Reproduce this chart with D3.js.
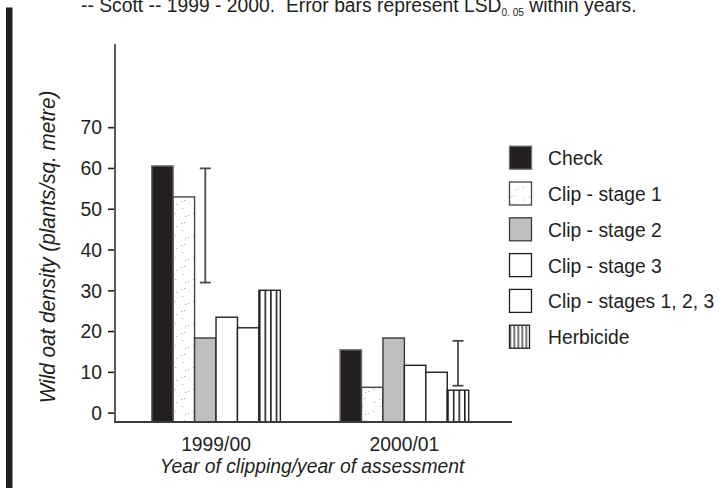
<!DOCTYPE html>
<html>
<head>
<meta charset="utf-8">
<script src="https://cdn.jsdelivr.net/npm/d3@7"></script>
<style>
  html, body { margin: 0; padding: 0; background: #fff; }
  svg { display: block; font-family: "Liberation Sans", Arial, sans-serif; }
</style>
</head>
<body>
<svg id="chart" width="719" height="488"></svg>
<script>
// Wild oat density by treatment, two assessment years
const years = ["1999/00", "2000/01"];
const treatments = ["Check", "Clip - stage 1", "Clip - stage 2", "Clip - stage 3", "Clip - stages 1, 2, 3", "Herbicide"];
const check = [60.5, 15.4];
const clipStage1 = [52.9, 6.2];
const clipStage2 = [18.3, 18.3];
const clipStage3 = [23.4, 11.6];
const clipStages123 = [20.8, 9.9];
const herbicide = [30.0, 5.5];
const yTicks = [0, 10, 20, 30, 40, 50, 60, 70];
// LSD(0.05) error bars within each year: [low, high] and the bar they sit over
const lsdLow = [31.9, 6.6];
const lsdHigh = [59.9, 17.6];
const lsdOver = ["Clip - stage 2", "Herbicide"];

const seriesValues = [check, clipStage1, clipStage2, clipStage3, clipStages123, herbicide];
const rows = [];
years.forEach((yr, gi) => treatments.forEach((t, si) => rows.push({ year: yr, treatment: t, value: seriesValues[si][gi] })));

const FONT = "Liberation Sans, Arial, sans-serif";
const NARROW = 0.92;   // slightly condensed lettering

const svg = d3.select("#chart");
const defs = svg.append("defs");

// speckled fill for clip stage 1
const speck = defs.append("pattern").attr("id", "speck").attr("patternUnits", "userSpaceOnUse")
  .attr("width", 18).attr("height", 22);
speck.append("rect").attr("width", 18).attr("height", 22).attr("fill", "#fff");
[[1, 3], [4, 2], [2, 10], [14, 6], [13, 15], [5, 18], [8, 17]].forEach(([x, y]) =>
  speck.append("rect").attr("x", x).attr("y", y).attr("width", 1.2).attr("height", 1).attr("fill", "#b0b0b0"));

// vertical-line fill for herbicide, laid out relative to each box
function vlinePattern(id, frac, w) {
  const p = defs.append("pattern").attr("id", id).attr("patternUnits", "objectBoundingBox")
    .attr("x", 0).attr("y", 0).attr("width", frac).attr("height", 1);
  p.append("rect").attr("width", 40).attr("height", 600).attr("fill", "#fff");
  p.append("line").attr("x1", 0.8).attr("x2", 0.8).attr("y1", 0).attr("y2", 600)
    .attr("stroke", "#231f20").attr("stroke-width", w);
}
vlinePattern("vlines", 0.261, 1.6);
vlinePattern("vlinesLegend", 0.2, 1.2);

const fills = {
  "Check": "#231f20",
  "Clip - stage 1": "url(#speck)",
  "Clip - stage 2": "#bcbec0",
  "Clip - stage 3": "#fff",
  "Clip - stages 1, 2, 3": "#fff",
  "Herbicide": "url(#vlines)"
};
const strokes = {
  "Check": "#6d6e71",
  "Clip - stage 1": "#444",
  "Clip - stage 2": "#3a3a3a",
  "Clip - stage 3": "#231f20",
  "Clip - stages 1, 2, 3": "#231f20",
  "Herbicide": "#231f20"
};

// scales
const y = d3.scaleLinear().domain([-2.3, 90.4]).range([422, 44]);
const x0 = d3.scaleBand().domain(years).range([151.7, 468.7]).paddingInner(0.317).paddingOuter(0);
const x1 = d3.scaleBand().domain(treatments).range([0, x0.bandwidth()]).padding(0);

// left margin rule
svg.append("rect").attr("x", 6).attr("y", 7.5).attr("width", 6.5).attr("height", 481).attr("fill", "#231f20");

// title line (runs off the top edge)
const title = svg.append("text").attr("transform", `translate(81,11.5) scale(${NARROW},1)`)
  .attr("font-size", 21).attr("fill", "#231f20");
title.append("tspan").text("-- Scott -- 1999 - 2000.  Error bars represent LSD");
title.append("tspan").attr("font-size", 11).attr("dy", 4).text("0. 05");
title.append("tspan").attr("dy", -4).text(" within years.");
title.attr("xml:space", "preserve").style("white-space", "pre");

// bars
svg.append("g").selectAll("rect").data(rows).join("rect")
  .attr("x", d => x0(d.year) + x1(d.treatment))
  .attr("y", d => y(d.value))
  .attr("width", x1.bandwidth())
  .attr("height", d => y(y.domain()[0]) - y(d.value))
  .attr("fill", d => fills[d.treatment])
  .attr("stroke", d => strokes[d.treatment])
  .attr("stroke-width", 1.4);

// error bars
const eb = svg.append("g").attr("stroke", "#4a4a4a").attr("stroke-width", 1.8);
years.forEach((yr, i) => {
  const cx = x0(yr) + x1(lsdOver[i]) + x1.bandwidth() / 2;
  eb.append("line").attr("x1", cx).attr("x2", cx).attr("y1", y(lsdLow[i])).attr("y2", y(lsdHigh[i]));
  [lsdLow[i], lsdHigh[i]].forEach(v =>
    eb.append("line").attr("x1", cx - 5.5).attr("x2", cx + 5.5).attr("y1", y(v)).attr("y2", y(v)));
});

// y axis
const yAxis = d3.axisLeft(y).tickValues(yTicks).tickSize(7).tickPadding(6).tickFormat(d3.format("d"));
const gy = svg.append("g").attr("transform", "translate(115,0)").call(yAxis);
gy.select(".domain").remove();
gy.selectAll(".tick line").attr("stroke", "#231f20").attr("stroke-width", 1.6);
gy.selectAll(".tick text").attr("font-size", 21).attr("fill", "#231f20").attr("font-family", FONT)
  .attr("x", null).attr("transform", `translate(-13,0) scale(${NARROW},1)`);
svg.append("line").attr("x1", 115).attr("x2", 115).attr("y1", 44).attr("y2", 422.8)
  .attr("stroke", "#5a5a5a").attr("stroke-width", 2);

// x axis
const xAxis = d3.axisBottom(x0).tickSize(0).tickPadding(14);
const gx = svg.append("g").attr("transform", "translate(0,422)").call(xAxis);
gx.select(".domain").remove();
gx.selectAll(".tick text").attr("font-size", 21).attr("fill", "#231f20").attr("font-family", FONT)
  .attr("transform", `scale(${NARROW},1)`);
svg.append("line").attr("x1", 114).attr("x2", 512).attr("y1", 422).attr("y2", 422)
  .attr("stroke", "#3a3a3a").attr("stroke-width", 2);

// axis titles
svg.append("text").attr("transform", `translate(312,473) scale(${NARROW},1)`).attr("text-anchor", "middle")
  .attr("font-size", 21).attr("font-style", "italic").attr("fill", "#231f20")
  .text("Year of clipping/year of assessment");
svg.append("text").attr("transform", `translate(55,247) rotate(-90) scale(${NARROW},1)`).attr("text-anchor", "middle")
  .attr("font-size", 22.5).attr("font-style", "italic").attr("fill", "#231f20")
  .text("Wild oat density (plants/sq. metre)");

// legend
const legend = svg.append("g").selectAll("g").data(treatments).join("g")
  .attr("transform", (d, i) => `translate(509.5,${157.7 + i * 35.8})`);
legend.append("rect")
  .attr("x", 0).attr("y", -11.5)
  .attr("width", d => d === "Herbicide" ? 20 : 22).attr("height", 23)
  .attr("fill", d => d === "Herbicide" ? "url(#vlinesLegend)" : fills[d])
  .attr("stroke", d => strokes[d]).attr("stroke-width", 1.3);
legend.append("text").attr("transform", `translate(38.5,0) scale(${NARROW},1)`).attr("dy", "0.36em")
  .attr("font-size", 21).attr("fill", "#231f20").text(d => d);
</script>
</body>
</html>
